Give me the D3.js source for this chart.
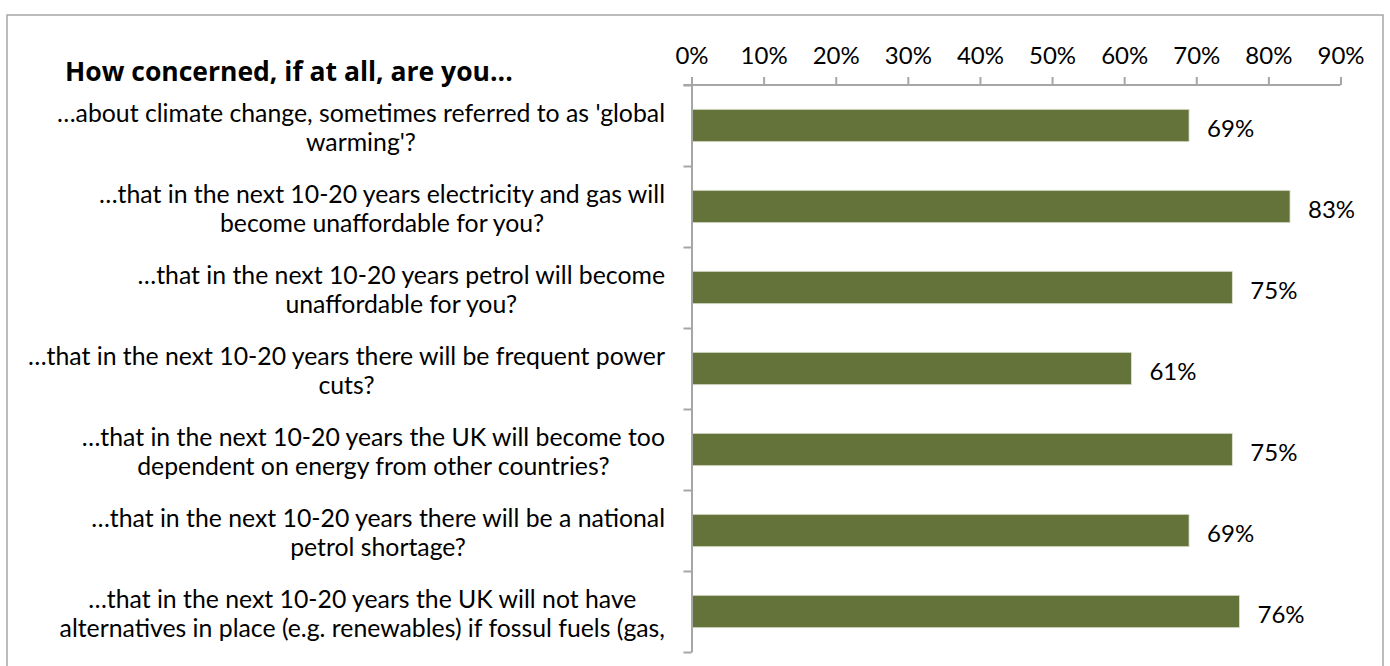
<!DOCTYPE html>
<html>
<head>
<meta charset="utf-8">
<script src="https://cdn.jsdelivr.net/npm/d3@7"></script>
<style>
  body { margin: 0; background: #fff; }
  svg { display: block; font-family: Lato, "Open Sans", sans-serif; }
</style>
</head>
<body>
<div id="chart"></div>
<script>
// chart data
var title = "How concerned, if at all, are you...";

var categories = [
  ["…about climate change, sometimes referred to as 'global", "warming'?"],
  ["…that in the next 10-20 years electricity and gas will", "become unaffordable for you?"],
  ["…that in the next 10-20 years petrol will become", "unaffordable for you?"],
  ["…that in the next 10-20 years there will be frequent power", "cuts?"],
  ["…that in the next 10-20 years the UK will become too", "dependent on energy from other countries?"],
  ["…that in the next 10-20 years there will be a national", "petrol shortage?"],
  ["…that in the next 10-20 years the UK will not have", "alternatives in place (e.g. renewables) if fossul fuels (gas,"]
];

var values = [0.69, 0.83, 0.75, 0.61, 0.75, 0.69, 0.76];

var tickValues = [0, 0.1, 0.2, 0.3, 0.4, 0.5, 0.6, 0.7, 0.8, 0.9];

// dimensions
var width = 1390,
  height = 666;

var plot = {
  left: 691.5,
  right: 1340.5,
  top: 85,
  bottom: 652
};

var svg = d3.select("#chart")
  .append("svg")
  .attr("width", width)
  .attr("height", height);

// outer border of the chart area
svg.append("rect")
  .attr("x", 7)
  .attr("y", 15)
  .attr("width", 1376)
  .attr("height", 700)
  .attr("fill", "none")
  .attr("stroke", "#a6a6a6")
  .attr("stroke-width", 1.5);

// scales
var x = d3.scaleLinear()
  .domain([0, 0.9])
  .range([plot.left, plot.right]);

var idx = d3.range(categories.length);

var y = d3.scaleBand()
  .domain(idx)
  .range([plot.top, plot.bottom])
  .paddingInner(0.6)
  .paddingOuter(0.3);

var yEdge = d3.scaleLinear()
  .domain([0, categories.length])
  .range([plot.top, plot.bottom]);

// bars
svg.selectAll(".bar")
  .data(values)
  .enter()
  .append("rect")
  .attr("class", "bar")
  .attr("x", x(0))
  .attr("y", function(d, i) { return y(i); })
  .attr("width", function(d) { return x(d) - x(0); })
  .attr("height", y.bandwidth())
  .attr("fill", "#637339")
  .attr("stroke", "#dfe3d4")
  .attr("stroke-width", 0.8);

// top axis
var xAxis = svg.append("g")
  .attr("transform", "translate(0," + plot.top + ")")
  .call(d3.axisTop(x)
    .tickValues(tickValues)
    .tickSize(8)
    .tickSizeOuter(0)
    .tickPadding(13)
    .tickFormat(d3.format(".0%")));

xAxis.select(".domain")
  .attr("stroke", "#a6a6a6")
  .attr("stroke-width", 2)
  .attr("d", "M" + (plot.left - 8) + ",0H" + x(0.9));
xAxis.selectAll(".tick line")
  .attr("stroke", "#a6a6a6")
  .attr("stroke-width", 2);
xAxis.selectAll(".tick text")
  .attr("fill", "#000")
  .style("font-size", "24px")
  .style("font-family", "Lato, sans-serif");

// left axis with ticks between categories
var yAxis = svg.append("g")
  .attr("transform", "translate(" + plot.left + ",0)")
  .call(d3.axisLeft(yEdge)
    .tickValues(d3.range(categories.length + 1))
    .tickSize(8)
    .tickSizeOuter(0)
    .tickFormat(""));

yAxis.select(".domain")
  .attr("stroke", "#a6a6a6")
  .attr("stroke-width", 2);
yAxis.selectAll(".tick line")
  .attr("stroke", "#a6a6a6")
  .attr("stroke-width", 2);

// value labels
svg.selectAll(".val")
  .data(values)
  .enter()
  .append("text")
  .attr("class", "val")
  .attr("x", function(d) { return x(d) + 18; })
  .attr("y", function(d, i) { return y(i) + y.bandwidth() / 2 + 3; })
  .attr("dy", "0.35em")
  .style("font-size", "24px")
  .text(function(d) { return d3.format(".0%")(d); });

// category labels, centred lines, right edge at 665
var labelRight = 665;
var lineGap = 29;

var labels = svg.selectAll(".cat")
  .data(categories)
  .enter()
  .append("g")
  .attr("class", "cat");

labels.each(function(lines, i) {
  var g = d3.select(this);
  var cy = y(i) + y.bandwidth() / 2 + 2;
  var texts = lines.map(function(line, j) {
    return g.append("text")
      .attr("y", cy + (j - (lines.length - 1) / 2) * lineGap)
      .attr("dy", "0.35em")
      .attr("text-anchor", "middle")
      .style("font-size", "24.8px")
      .text(line);
  });
  var maxW = d3.max(texts, function(t) { return t.node().getComputedTextLength(); });
  texts.forEach(function(t) { t.attr("x", labelRight - maxW / 2); });
});

// title
svg.append("text")
  .attr("x", 65)
  .attr("y", 72)
  .attr("dy", "0.35em")
  .style("font-family", "'Open Sans', sans-serif")
  .style("font-size", "26.5px")
  .style("font-weight", "bold")
  .text(title);
</script>
</body>
</html>
